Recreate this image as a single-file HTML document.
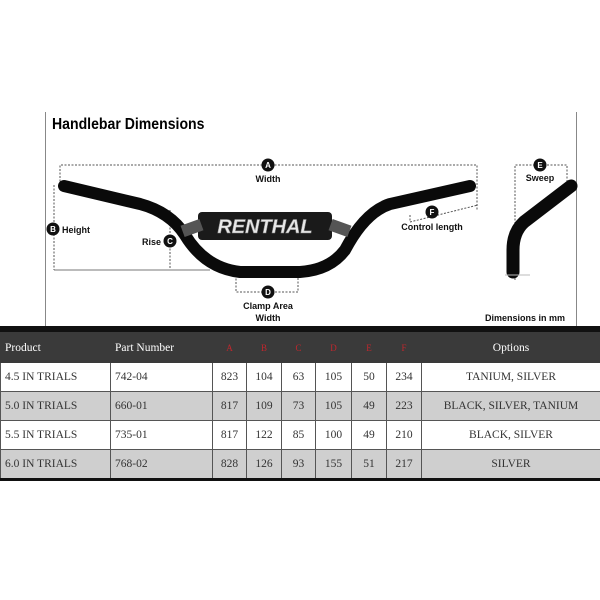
<!DOCTYPE html>
<html><head><meta charset="utf-8"><style>
body{margin:0;width:600px;height:600px;background:#fff;overflow:hidden;position:relative;font-family:"Liberation Serif",serif}
svg text{font-family:"Liberation Sans",sans-serif;font-weight:bold}
table{position:absolute;left:0;top:332px;width:600px;border-collapse:collapse;font-size:11.5px;color:#333;table-layout:fixed}
td{height:28px;border:1px solid #555;padding:0;text-align:center;line-height:12px}
td.l{text-align:left;padding-left:4px}
tr.h td{background:#3a3a3a;color:#fff;height:29px;border:1px solid #3a3a3a}
tr.h td.r{color:#c0272d;font-size:9px}
tr.g td{background:#cfcfcf}
</style></head><body>
<svg width="600" height="332" style="position:absolute;left:0;top:0">
<line x1="45.5" y1="112" x2="45.5" y2="327" stroke="#888" stroke-width="1"/>
<line x1="576.5" y1="112" x2="576.5" y2="327" stroke="#888" stroke-width="1"/>
<rect x="0" y="326" width="600" height="6" fill="#111"/>
<text x="52" y="129" font-size="16" transform="translate(52 0) scale(0.88 1) translate(-52 0)">Handlebar Dimensions</text>
<g fill="none" stroke="#555" stroke-width="1" stroke-dasharray="2 1.5">
<polyline points="60,185 60,165 477,165 477,210"/>
<line x1="54" y1="185" x2="54" y2="270"/>
<line x1="170" y1="210" x2="170" y2="270"/>
<polyline points="236,275 236,292 298,292 298,275"/>
<polyline points="410,215 410,222 478,205"/>
<polyline points="515,280 515,165 567,165 567,185"/>
</g>
<line x1="54" y1="270" x2="210" y2="270" stroke="#777"/>
<path d="M64,186 L140,204 Q170,212 185,235 Q205,268 240,272 L300,272 Q330,270 345,250 Q365,212 390,204 L470,186" fill="none" stroke="#0a0a0a" stroke-width="12" stroke-linecap="round"/>
<rect x="198" y="212" width="134" height="28" rx="4" fill="#1a1a1a"/>
<rect x="182" y="222" width="20" height="12" fill="#555" transform="rotate(-20 192 228)"/>
<rect x="330" y="222" width="20" height="12" fill="#555" transform="rotate(20 340 228)"/>
<text x="265" y="233" font-size="19" fill="#e8e8e8" text-anchor="middle" font-style="italic" stroke="#888" stroke-width="0.5" transform="translate(265 0) scale(1.05 1) translate(-265 0)">RENTHAL</text>
<path d="M571,186 L524,222 Q513,232 513,250 L513,272" fill="none" stroke="#0a0a0a" stroke-width="13" stroke-linecap="round"/>
<line x1="505" y1="275" x2="530" y2="275" stroke="#bbb"/>
<g fill="#111"><circle cx="268" cy="165" r="6.5"/><circle cx="53" cy="229" r="6.5"/><circle cx="170" cy="241" r="6.5"/><circle cx="268" cy="292" r="6.5"/><circle cx="432" cy="212" r="6.5"/><circle cx="540" cy="165" r="6.5"/></g>
<g fill="#fff" font-size="8" text-anchor="middle"><text x="268" y="168">A</text><text x="53" y="232">B</text><text x="170" y="244">C</text><text x="268" y="295">D</text><text x="432" y="215">F</text><text x="540" y="168">E</text></g>
<g fill="#111" font-size="9">
<text x="268" y="182" text-anchor="middle">Width</text>
<text x="62" y="233">Height</text>
<text x="161" y="245" text-anchor="end">Rise</text>
<text x="268" y="309" text-anchor="middle">Clamp Area</text>
<text x="268" y="321" text-anchor="middle">Width</text>
<text x="432" y="230" text-anchor="middle">Control length</text>
<text x="540" y="181" text-anchor="middle">Sweep</text>
<text x="565" y="321" text-anchor="end">Dimensions in mm</text>
</g>
</svg>
<table>
<colgroup><col style="width:110px"><col style="width:102px"><col style="width:34px"><col style="width:35px"><col style="width:34px"><col style="width:36px"><col style="width:35px"><col style="width:35px"><col style="width:179px"></colgroup>
<tr class="h"><td class="l">Product</td><td class="l">Part Number</td><td class="r">A</td><td class="r">B</td><td class="r">C</td><td class="r">D</td><td class="r">E</td><td class="r">F</td><td>Options</td></tr>
<tr><td class="l">4.5 IN TRIALS</td><td class="l">742-04</td><td>823</td><td>104</td><td>63</td><td>105</td><td>50</td><td>234</td><td>TANIUM, SILVER</td></tr>
<tr class="g"><td class="l">5.0 IN TRIALS</td><td class="l">660-01</td><td>817</td><td>109</td><td>73</td><td>105</td><td>49</td><td>223</td><td>BLACK, SILVER, TANIUM</td></tr>
<tr><td class="l">5.5 IN TRIALS</td><td class="l">735-01</td><td>817</td><td>122</td><td>85</td><td>100</td><td>49</td><td>210</td><td>BLACK, SILVER</td></tr>
<tr class="g"><td class="l">6.0 IN TRIALS</td><td class="l">768-02</td><td>828</td><td>126</td><td>93</td><td>155</td><td>51</td><td>217</td><td>SILVER</td></tr>
</table>
<div style="position:absolute;left:0;top:478px;width:600px;height:3px;background:#111"></div>
</body></html>
